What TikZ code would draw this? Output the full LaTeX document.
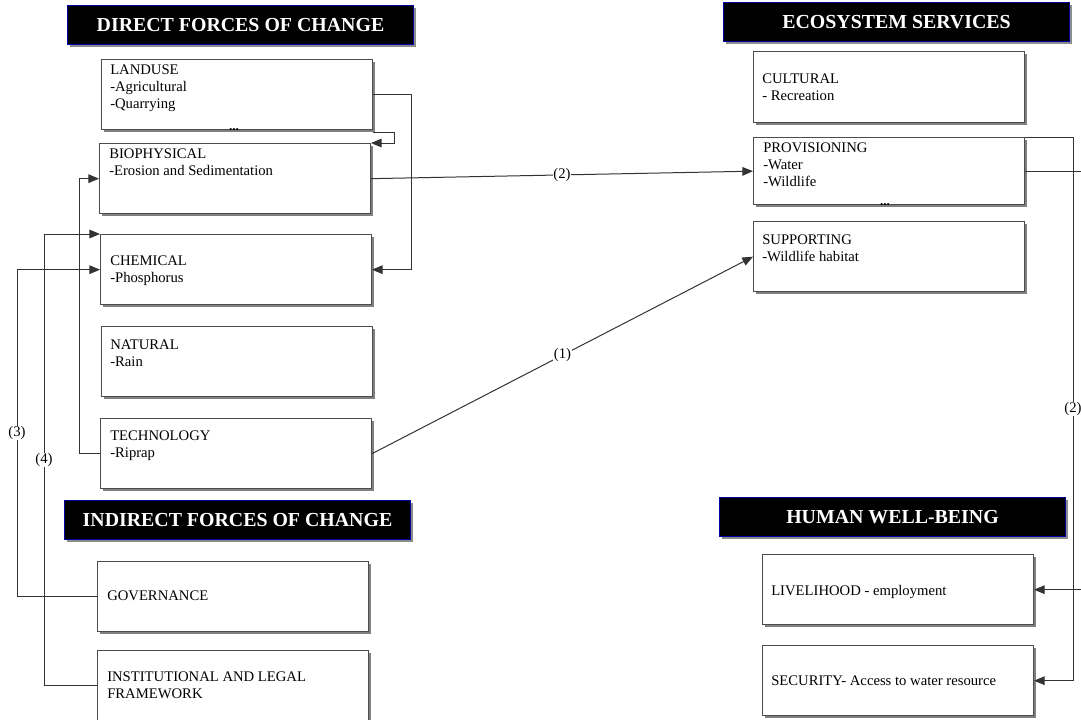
\documentclass[tikz,border=0pt]{standalone}
\usepackage{fontspec}
\setmainfont{Liberation Serif}
\usetikzlibrary{arrows.meta,shadows,calc}
\begin{document}
\begin{tikzpicture}[x=0.75pt,y=-0.75pt,
  box/.style={draw=black!70, line width=1pt, fill=white, minimum width=203pt,
    minimum height=52.5pt, anchor=north west, inner sep=0pt,
    drop shadow={shadow xshift=2pt, shadow yshift=-2pt, fill=black!50, opacity=1}},
  heading/.style={draw=blue!65!black, line width=0.75pt, fill=black, text=white,
    font=\fontsize{14.9}{18}\selectfont\bfseries, minimum width=259.5pt,
    minimum height=29.25pt, anchor=north west, inner sep=0pt,
    drop shadow={shadow xshift=2pt, shadow yshift=-2pt, fill=black!45, opacity=1}},
  txt/.style={anchor=north west, inner sep=0pt, align=left,
    font=\fontsize{11}{12.75}\selectfont},
  lbl/.style={fill=white, inner sep=0.5pt, font=\fontsize{11}{12}\selectfont},
  dots/.style={inner sep=0pt, font=\fontsize{10}{10}\selectfont\bfseries},
  conn/.style={draw=black!80, line width=0.75pt,
    -{Triangle[length=8pt,width=6.5pt]}}]

\useasboundingbox (0,0) rectangle (1081,719);
\fill[white] (0,0) rectangle (1081,719);
\clip (0,0) rectangle (1081,719);

% ---------- headings ----------
\node[heading] (hdirect)   at (67,5)    {DIRECT FORCES OF CHANGE};
\node[heading] (hindirect) at (64,500)  {INDIRECT FORCES OF CHANGE};
\node[heading] (heco)      at (723,2)   {ECOSYSTEM SERVICES};
\node[heading] (hhuman)    at (719,497) {HUMAN WELL-BEING};

% ---------- direct forces ----------
\node[box] (landuse) at (101,59) {};
\node[txt] (landuse-t) at ($(landuse.north west)+(9,6)$) {LANDUSE\\-Agricultural\\-Quarrying};
\node[dots] (dots1) at (234,130) {...};

\node[box] (bio) at (99,143) {};
\node[txt] (bio-t) at ($(bio.north west)+(10,6)$) {BIOPHYSICAL\\-Erosion and Sedimentation};

\node[box] (chem) at (100,234) {};
\node[txt] (chem-t) at ($(chem.north west)+(10,22)$) {CHEMICAL\\-Phosphorus};

\node[box] (natural) at (101,326) {};
\node[txt] (natural-t) at ($(natural.north west)+(9,14)$) {NATURAL\\-Rain};

\node[box] (tech) at (100,418) {};
\node[txt] (tech-t) at ($(tech.north west)+(10,13)$) {TECHNOLOGY\\-Riprap};

% ---------- indirect forces ----------
\node[box] (gov) at (97,561) {};
\node[txt] (gov-t) at ($(gov.north west)+(10,30)$) {GOVERNANCE};

\node[box] (inst) at (97,650) {};
\node[txt] (inst-t) at ($(inst.north west)+(10,22)$) {INSTITUTIONAL AND LEGAL\\FRAMEWORK};

% ---------- ecosystem services ----------
\node[box, minimum height=53.25pt] (cult) at (753,51) {};
\node[txt] (cult-t) at ($(cult.north west)+(9,23)$) {CULTURAL\\- Recreation};

\node[box, minimum height=50.25pt] (prov) at (753,137) {};
\node[txt] (prov-t) at ($(prov.north west)+(10,6)$) {PROVISIONING\\-Water\\-Wildlife};
\node[dots] (dots2) at (885,205) {...};

\node[box] (supp) at (753,221) {};
\node[txt] (supp-t) at ($(supp.north west)+(9,14)$) {SUPPORTING\\-Wildlife habitat};

% ---------- human well-being ----------
\node[box] (live) at (762,554) {};
\node[txt] (live-t) at ($(live.north west)+(9,31)$) {LIVELIHOOD - employment};

\node[box] (sec) at (762,645) {};
\node[txt] (sec-t) at ($(sec.north west)+(9,31)$) {SECURITY- Access to water resource};

% ---------- connectors ----------
\draw[conn] (landuse.east) -- ++(38,0) |- (chem.east);
\draw[conn] ($(landuse.south east)+(0,2)$) -- ++(21,0) |- (bio.north east);
\draw[conn] (bio.east) -- node[lbl]{(2)} (prov.west);
\draw[conn] (tech.east) -- node[lbl]{(1)} (supp.west);
\draw[conn] (tech.west) -- ++(-21,0) |- (bio.west);
\draw[conn] (gov.west) -- ++(-80,0) |- node[pos=0.25, lbl]{(3)} (chem.west);
\draw[conn] (inst.west) -- ++(-53,0) |- node[pos=0.25, lbl]{(4)} (chem.north west);
\draw[conn] (prov.north east) -- ++(48,0) |- node[pos=0.25, lbl]{(2)} (sec.east);
\draw[conn] (prov.east) -- ++(72,0) |- (live.east);

\end{tikzpicture}
\end{document}
